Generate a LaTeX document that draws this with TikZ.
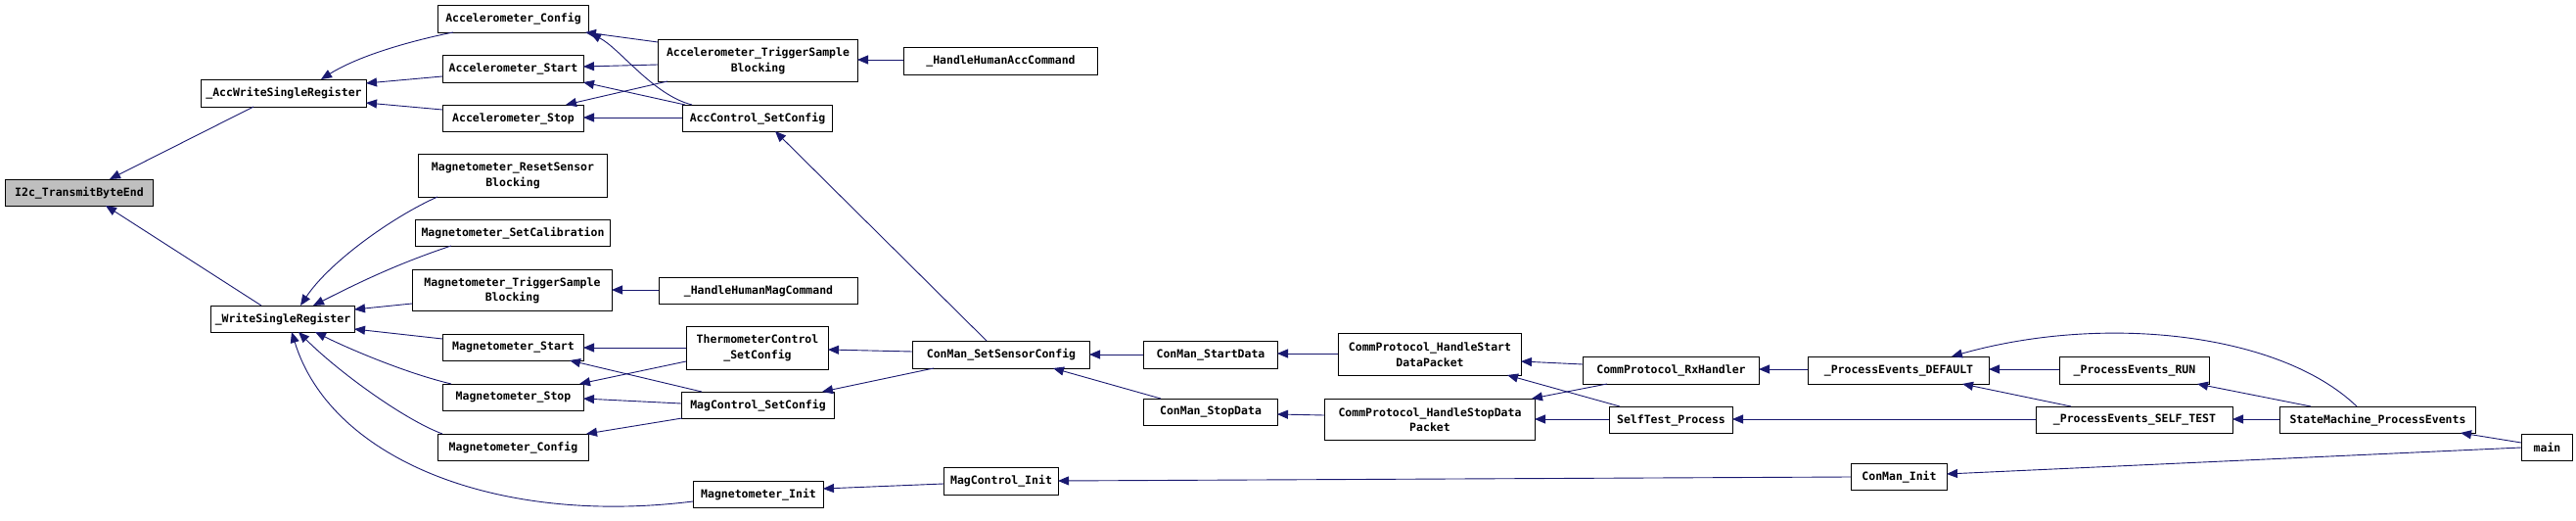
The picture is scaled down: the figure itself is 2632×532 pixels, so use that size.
\documentclass[tikz,border=0pt]{standalone}
\usepackage{fontspec}
\setmonofont{DejaVu Sans Mono}
\usetikzlibrary{arrows.meta,calc}
\definecolor{edgec}{HTML}{191970}
\definecolor{hl}{HTML}{BFBFBF}
\tikzset{
  box/.style={draw=black, line width=1pt, inner sep=0pt, align=center, anchor=north west,
    font=\ttfamily\bfseries\fontsize{11.5}{15.5}\selectfont},
  e/.style={draw=edgec, line width=0.9pt, -{Triangle[length=11pt,width=9pt]}}
}
\begin{document}
\begin{tikzpicture}[x=1pt,y=-1pt]
\useasboundingbox (0,0) rectangle (2632,532);
% nodes
\node[box, fill=hl, minimum width=151pt, minimum height=27pt] (i2c) at (5,183) {I2c\_TransmitByteEnd};
\node[box, minimum width=169pt, minimum height=28pt] (accw) at (205,81) {\_AccWriteSingleRegister};
\node[box, minimum width=147pt, minimum height=27pt] (wsr) at (215,312) {\_WriteSingleRegister};
\node[box, minimum width=154pt, minimum height=28pt] (acfg) at (447,5) {Accelerometer\_Config};
\node[box, minimum width=144pt, minimum height=28pt] (astart) at (452,56) {Accelerometer\_Start};
\node[box, minimum width=144pt, minimum height=27pt] (astop) at (452,107) {Accelerometer\_Stop};
\node[box, minimum width=193pt, minimum height=44pt] (mreset) at (427,157) {Magnetometer\_ResetSensor\\Blocking};
\node[box, minimum width=199pt, minimum height=27pt] (mcal) at (424,224) {Magnetometer\_SetCalibration};
\node[box, minimum width=204pt, minimum height=42pt] (mtrig) at (421,275) {Magnetometer\_TriggerSample\\Blocking};
\node[box, minimum width=144pt, minimum height=27pt] (mstart) at (452,341) {Magnetometer\_Start};
\node[box, minimum width=144pt, minimum height=27pt] (mstop) at (452,392) {Magnetometer\_Stop};
\node[box, minimum width=154pt, minimum height=27pt] (mcfg) at (447,443) {Magnetometer\_Config};
\node[box, minimum width=204pt, minimum height=43pt] (atrig) at (672,40) {Accelerometer\_TriggerSample\\Blocking};
\node[box, minimum width=198pt, minimum height=28pt] (hacc) at (923,48) {\_HandleHumanAccCommand};
\node[box, minimum width=153pt, minimum height=27pt] (accset) at (697,107) {AccControl\_SetConfig};
\node[box, minimum width=203pt, minimum height=27pt] (hmag) at (673,283) {\_HandleHumanMagCommand};
\node[box, minimum width=145pt, minimum height=44pt] (thermo) at (701,333) {ThermometerControl\\\_SetConfig};
\node[box, minimum width=156pt, minimum height=27pt] (magset) at (696,400) {MagControl\_SetConfig};
\node[box, minimum width=133pt, minimum height=27pt] (minit) at (708,491) {Magnetometer\_Init};
\node[box, minimum width=181pt, minimum height=28pt] (sensor) at (932,348) {ConMan\_SetSensorConfig};
\node[box, minimum width=137pt, minimum height=28pt] (startd) at (1168,348) {ConMan\_StartData};
\node[box, minimum width=137pt, minimum height=27pt] (stopd) at (1168,407) {ConMan\_StopData};
\node[box, minimum width=117pt, minimum height=28pt] (minitc) at (964,477) {MagControl\_Init};
\node[box, minimum width=187pt, minimum height=43pt] (hstart) at (1367,340) {CommProtocol\_HandleStart\\DataPacket};
\node[box, minimum width=215pt, minimum height=42pt] (hstop) at (1353,407) {CommProtocol\_HandleStopData\\Packet};
\node[box, minimum width=180pt, minimum height=28pt] (rx) at (1617,364) {CommProtocol\_RxHandler};
\node[box, minimum width=126pt, minimum height=27pt] (self) at (1644,415) {SelfTest\_Process};
\node[box, minimum width=185pt, minimum height=28pt] (pdef) at (1847,364) {\_ProcessEvents\_DEFAULT};
\node[box, minimum width=98pt, minimum height=27pt] (cinit) at (1891,473) {ConMan\_Init};
\node[box, minimum width=153pt, minimum height=28pt] (prun) at (2104,364) {\_ProcessEvents\_RUN};
\node[box, minimum width=201pt, minimum height=27pt] (pself) at (2080,415) {\_ProcessEvents\_SELF\_TEST};
\node[box, minimum width=200pt, minimum height=27pt] (sm) at (2329,415) {StateMachine\_ProcessEvents};
\node[box, minimum width=52pt, minimum height=27pt] (main) at (2576,443) {main};
% edges
\draw[e] ($(accw.north west)+(54,28)$) -- ($(i2c.north west)+(107,0)$);
\draw[e] ($(wsr.north west)+(52,0)$) -- ($(i2c.north west)+(103,27)$);
\draw[e] ($(acfg.north west)+(16,28)$) .. controls +(-40,8) and +(40,-25) .. ($(accw.north west)+(123,0)$);
\draw[e] ($(astart.north west)+(0,22)$) -- ($(accw.north west)+(169,4)$);
\draw[e] ($(astop.north west)+(0,5)$) -- ($(accw.north west)+(169,24)$);
\draw[e] ($(mreset.north west)+(20,44)$) .. controls +(-45,20) and +(30,-45) .. ($(wsr.north west)+(92,0)$);
\draw[e] ($(mcal.north west)+(37,27)$) .. controls +(-60,20) and +(40,-20) .. ($(wsr.north west)+(105,0)$);
\draw[e] ($(mtrig.north west)+(0,35)$) -- ($(wsr.north west)+(147,4)$);
\draw[e] ($(mstart.north west)+(0,5)$) -- ($(wsr.north west)+(147,24)$);
\draw[e] ($(mstop.north west)+(9,0)$) .. controls +(-50,-12) and +(30,15) .. ($(wsr.north west)+(107,27)$);
\draw[e] ($(mcfg.north west)+(5,0)$) .. controls +(-40,-15) and +(40,40) .. ($(wsr.north west)+(90,27)$);
\draw[e] ($(minit.north west)+(0,21)$) .. controls +(-200,25) and +(40,130) .. ($(wsr.north west)+(83,27)$);
\draw[e] ($(atrig.north west)+(0,3)$) -- ($(acfg.north west)+(151,28)$);
\draw[e] ($(accset.north west)+(10,0)$) .. controls +(-40,-10) and +(30,15) .. ($(acfg.north west)+(156,29)$);
\draw[e] ($(atrig.north west)+(0,26)$) -- ($(astart.north west)+(144,12)$);
\draw[e] ($(accset.north west)+(3,0)$) -- ($(astart.north west)+(144,28)$);
\draw[e] ($(atrig.north west)+(10,43)$) -- ($(astop.north west)+(126,0)$);
\draw[e] ($(accset.north west)+(0,13)$) -- ($(astop.north west)+(144,13)$);
\draw[e] ($(hacc.north west)+(0,13)$) -- ($(atrig.north west)+(204,21)$);
\draw[e] ($(sensor.north west)+(76,0)$) -- ($(accset.north west)+(95,27)$);
\draw[e] ($(hmag.north west)+(0,13)$) -- ($(mtrig.north west)+(204,21)$);
\draw[e] ($(thermo.north west)+(0,22)$) -- ($(mstart.north west)+(144,14)$);
\draw[e] ($(magset.north west)+(21,0)$) -- ($(mstart.north west)+(130,27)$);
\draw[e] ($(thermo.north west)+(0,36)$) -- ($(mstop.north west)+(140,0)$);
\draw[e] ($(magset.north west)+(0,12)$) -- ($(mstop.north west)+(144,15)$);
\draw[e] ($(magset.north west)+(1,27)$) -- ($(mcfg.north west)+(152,0)$);
\draw[e] ($(sensor.north west)+(0,11)$) -- ($(thermo.north west)+(145,24)$);
\draw[e] ($(sensor.north west)+(22,28)$) -- ($(magset.north west)+(144,0)$);
\draw[e] ($(minitc.north west)+(0,17)$) -- ($(minit.north west)+(133,8)$);
\draw[e] ($(cinit.north west)+(0,14)$) -- ($(minitc.north west)+(117,14)$);
\draw[e] ($(startd.north west)+(0,14)$) -- ($(sensor.north west)+(181,14)$);
\draw[e] ($(stopd.north west)+(18,0)$) -- ($(sensor.north west)+(144,28)$);
\draw[e] ($(hstart.north west)+(0,21)$) -- ($(startd.north west)+(137,13)$);
\draw[e] ($(hstop.north west)+(0,17)$) -- ($(stopd.north west)+(137,16)$);
\draw[e] ($(rx.north west)+(0,8)$) -- ($(hstart.north west)+(187,29)$);
\draw[e] ($(self.north west)+(11,0)$) -- ($(hstart.north west)+(173,43)$);
\draw[e] ($(rx.north west)+(25,28)$) -- ($(hstop.north west)+(212,0)$);
\draw[e] ($(self.north west)+(0,13)$) -- ($(hstop.north west)+(215,21)$);
\draw[e] ($(pdef.north west)+(0,13)$) -- ($(rx.north west)+(180,13)$);
\draw[e] ($(pself.north west)+(0,13)$) -- ($(self.north west)+(126,13)$);
\draw[e] ($(prun.north west)+(0,13)$) -- ($(pdef.north west)+(185,13)$);
\draw[e] ($(pself.north west)+(36,0)$) -- ($(pdef.north west)+(158,28)$);
\draw[e] ($(sm.north west)+(79,0)$) .. controls +(-78,-75) and +(156,-44) .. ($(pdef.north west)+(147,0)$);
\draw[e] ($(sm.north west)+(32,0)$) -- ($(prun.north west)+(141,28)$);
\draw[e] ($(sm.north west)+(0,13)$) -- ($(pself.north west)+(201,13)$);
\draw[e] ($(main.north west)+(0,9)$) -- ($(sm.north west)+(185,27)$);
\draw[e] ($(main.north west)+(0,14)$) -- ($(cinit.north west)+(98,11)$);
\end{tikzpicture}
\end{document}
